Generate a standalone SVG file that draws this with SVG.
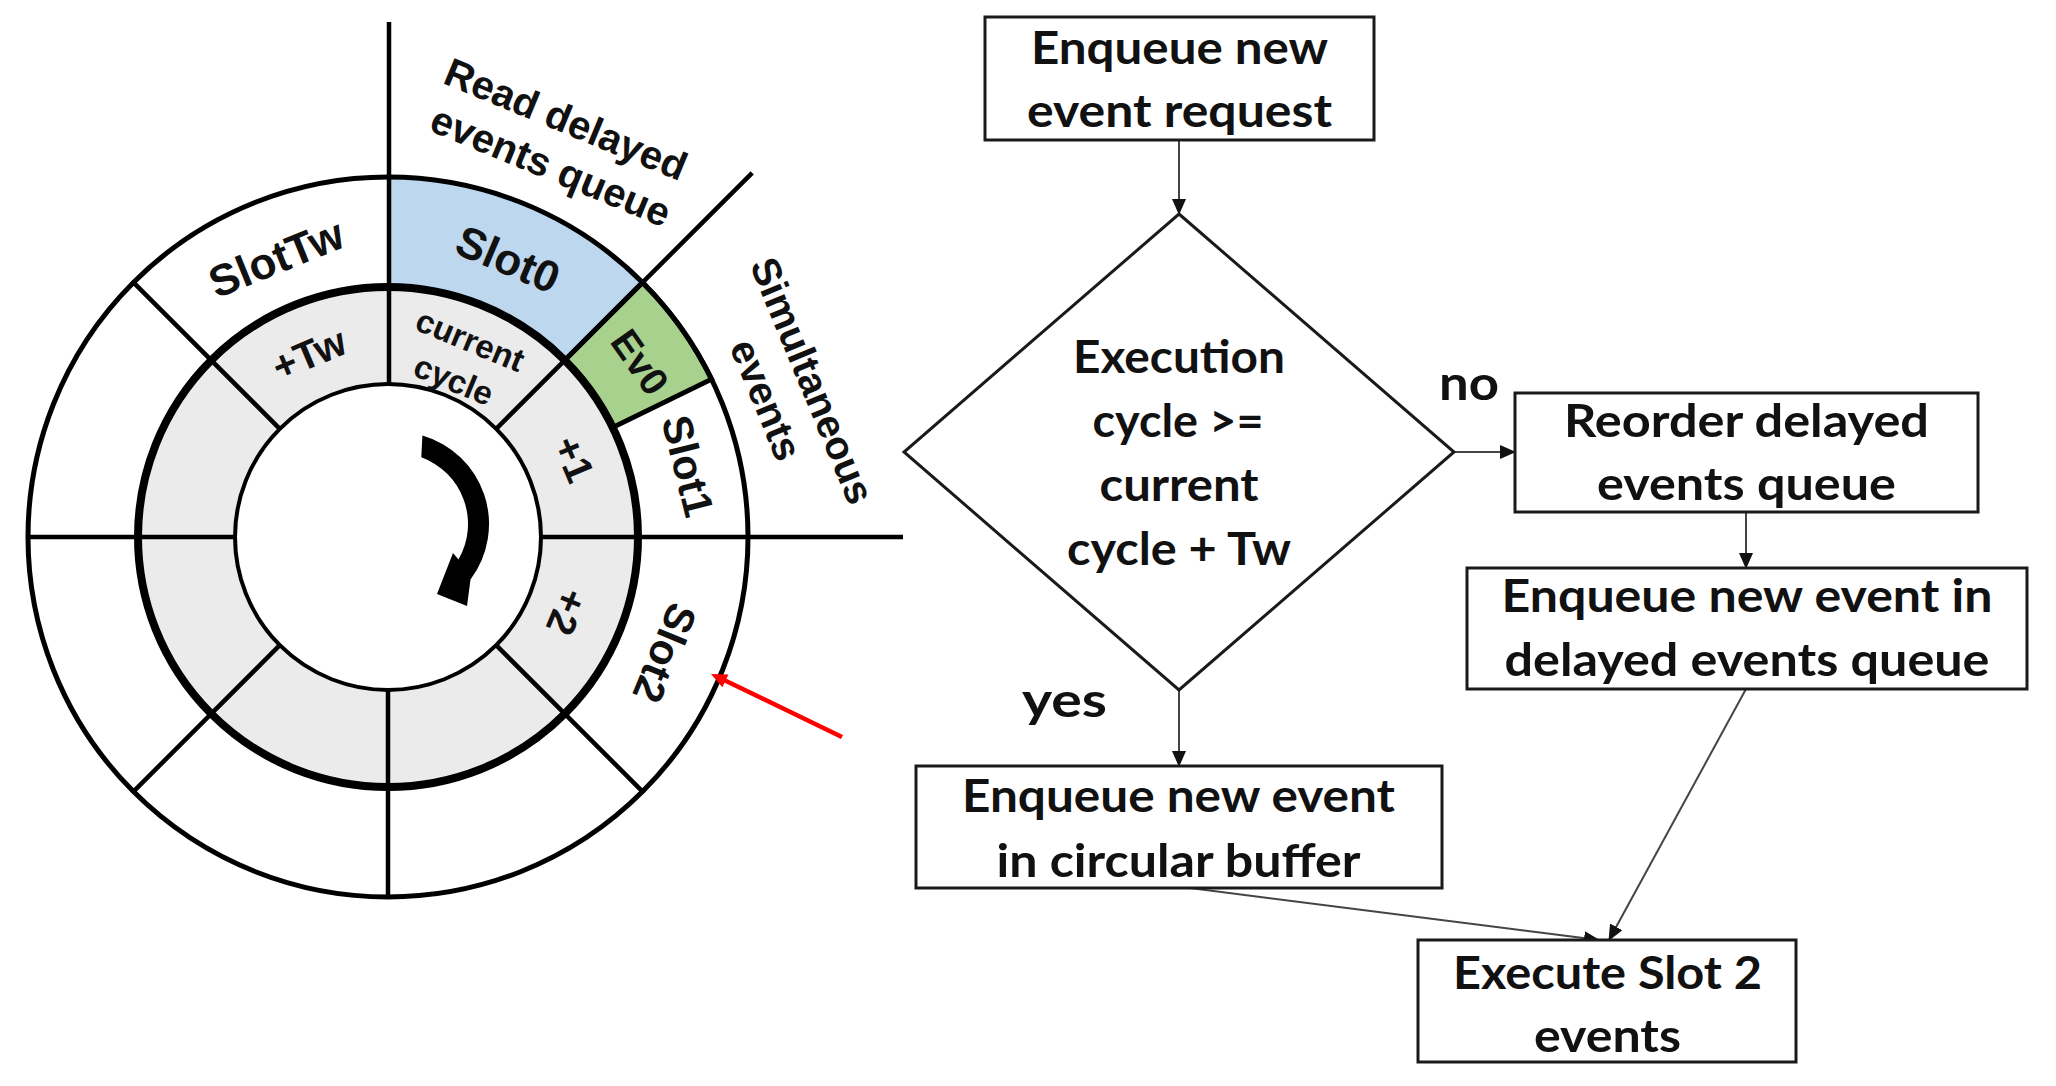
<svg xmlns="http://www.w3.org/2000/svg" width="2056" height="1086" viewBox="0 0 2056 1086">
<style>
.ct{font-family:"Liberation Sans",Arial,sans-serif;font-weight:bold;fill:#111;text-anchor:middle}
.fl{font-family:Lato,"Open Sans",sans-serif;font-weight:bold;font-size:46px;fill:#111;text-anchor:middle}
.lb{font-family:Lato,"Open Sans",sans-serif;font-weight:bold;font-size:48px;fill:#111}
.box{fill:#fff;stroke:#1a1a1a;stroke-width:3}
.rad{stroke:#000;stroke-width:4.5;fill:none}
.con{stroke:#444;stroke-width:2;fill:none}
</style>
<defs>
<marker id="ah" markerUnits="userSpaceOnUse" markerWidth="16" markerHeight="14" refX="15" refY="7" orient="auto">
<path d="M0,0 L16,7 L0,14 Z" fill="#111"/>
</marker>
</defs>
<rect width="2056" height="1086" fill="#fff"/>

<g id="circular-buffer">
<circle cx="388" cy="537" r="360" fill="#fff"/>
<path d="M388,177 A360,360 0 0 1 642.6,282.4 L564.8,360.2 A250,250 0 0 0 388,287 Z" fill="#bdd7ee"/>
<circle cx="388" cy="537" r="250" fill="#ebebeb"/>
<circle cx="388" cy="537" r="153" fill="#fff"/>
<path id="ev0-sector" d="M642.6,282.4 A360,360 0 0 1 711.6,379.2 L612.7,427.4 A250,250 0 0 0 564.8,360.2 Z" fill="#a9d18e" stroke="#000" stroke-width="5"/>
<circle cx="388" cy="537" r="360" fill="none" stroke="#000" stroke-width="5"/>
<circle cx="388" cy="537" r="250" fill="none" stroke="#000" stroke-width="8"/>
<circle cx="388" cy="537" r="153" fill="none" stroke="#000" stroke-width="4"/>
<line class="rad" x1="541" y1="537" x2="903" y2="537"/>
<line class="rad" x1="496.2" y1="428.8" x2="752.2" y2="172.8"/>
<line class="rad" x1="389" y1="384" x2="389" y2="22"/>
<line class="rad" x1="279.8" y1="428.8" x2="133.4" y2="282.4"/>
<line class="rad" x1="235" y1="537" x2="28" y2="537"/>
<line class="rad" x1="279.8" y1="645.2" x2="133.4" y2="791.6"/>
<line class="rad" x1="388" y1="690" x2="388" y2="897"/>
<line class="rad" x1="496.2" y1="645.2" x2="642.6" y2="791.6"/>
<path id="rotation-arrow" d="M422.4,435.6 A92,92 0 0 1 470.5,579.4 L467,606 L437,594 L453,553 L458.5,559.5 A71,71 0 0 0 421.3,457.3 Z" fill="#000"/>

<text class="ct" font-size="44" transform="translate(508,259) rotate(23)" dy=".35em">Slot0</text>
<text class="ct" font-size="44" transform="translate(276,258) rotate(-22)" dy=".35em">SlotTw</text>
<text class="ct" font-size="42" transform="translate(688,466) rotate(76)" dy=".35em">Slot1</text>
<text class="ct" font-size="39" transform="translate(640,362) rotate(55)" dy=".35em">Ev0</text>
<text class="ct" font-size="42" transform="translate(665,653) rotate(112.5)" dy=".35em">Slot2</text>
<text class="ct" font-size="40" transform="translate(567,612) rotate(112.5)" dy=".35em">+2</text>
<text class="ct" font-size="40" transform="translate(574,459) rotate(67)" dy=".35em">+1</text>
<text class="ct" font-size="40" transform="translate(309,354) rotate(-23)" dy=".35em">+Tw</text>
<g transform="translate(462,360) rotate(22.5)">
<text class="ct" font-size="33" y="-21.5" dy=".35em">current</text>
<text class="ct" font-size="33" y="21.5" dy=".35em">cycle</text>
</g>
<g transform="translate(560.6,132) rotate(22.5)">
<text class="ct" font-size="40">Read delayed</text>
<text class="ct" font-size="40" x="4" y="49">events queue</text>
</g>
<g transform="translate(812.5,380.5) rotate(67.5)">
<text class="ct" font-size="40" dy=".35em">Simultaneous</text>
<text class="ct" font-size="40" y="50" dy=".35em">events</text>
</g>
<g id="red-arrow">
<line x1="842" y1="737" x2="724" y2="680" stroke="#ff0000" stroke-width="4.5"/>
<path d="M711,674 L728.4,674.6 L722.4,687.2 Z" fill="#ff0000"/>
</g>
</g>

<g id="connectors">
<line class="con" x1="1179" y1="140" x2="1179" y2="214" marker-end="url(#ah)"/>
<line class="con" x1="1454" y1="452" x2="1515" y2="452" marker-end="url(#ah)"/>
<line class="con" x1="1746" y1="512" x2="1746" y2="568" marker-end="url(#ah)"/>
<line class="con" x1="1179" y1="690" x2="1179" y2="766" marker-end="url(#ah)"/>
<line class="con" x1="1190" y1="888" x2="1599" y2="940" marker-end="url(#ah)"/>
<line class="con" x1="1746" y1="689" x2="1609" y2="940" marker-end="url(#ah)"/>
<text class="lb" x="1439" y="400" textLength="60" lengthAdjust="spacingAndGlyphs">no</text>
<text class="lb" x="1022" y="717" textLength="85" lengthAdjust="spacingAndGlyphs">yes</text>
</g>

<g id="n1">
<rect class="box" x="985" y="17" width="389" height="123"/>
<text class="fl" x="1179.5" y="64" textLength="297" lengthAdjust="spacingAndGlyphs">Enqueue new</text>
<text class="fl" x="1179.5" y="127" textLength="305" lengthAdjust="spacingAndGlyphs">event request</text>
</g>
<g id="d1">
<polygon points="1179,214 1454,452 1179,690 904,452" fill="#fff" stroke="#1a1a1a" stroke-width="3"/>
<text class="fl" x="1179" y="373" textLength="212" lengthAdjust="spacingAndGlyphs">Execution</text>
<text class="fl" x="1178" y="437" textLength="171" lengthAdjust="spacingAndGlyphs">cycle &gt;=</text>
<text class="fl" x="1179" y="501" textLength="159" lengthAdjust="spacingAndGlyphs">current</text>
<text class="fl" x="1179" y="565" textLength="224" lengthAdjust="spacingAndGlyphs">cycle + Tw</text>
</g>
<g id="n2">
<rect class="box" x="1515" y="393" width="463" height="119"/>
<text class="fl" x="1746.5" y="437" textLength="365" lengthAdjust="spacingAndGlyphs">Reorder delayed</text>
<text class="fl" x="1746.5" y="500" textLength="299" lengthAdjust="spacingAndGlyphs">events queue</text>
</g>
<g id="n3">
<rect class="box" x="1467" y="568" width="560" height="121"/>
<text class="fl" x="1747" y="612" textLength="491" lengthAdjust="spacingAndGlyphs">Enqueue new event in</text>
<text class="fl" x="1747" y="676" textLength="485" lengthAdjust="spacingAndGlyphs">delayed events queue</text>
</g>
<g id="n4">
<rect class="box" x="916" y="766" width="526" height="122"/>
<text class="fl" x="1178.5" y="812" textLength="433" lengthAdjust="spacingAndGlyphs">Enqueue new event</text>
<text class="fl" x="1178.5" y="877" textLength="364" lengthAdjust="spacingAndGlyphs">in circular buffer</text>
</g>
<g id="n5">
<rect class="box" x="1418" y="940" width="378" height="122"/>
<text class="fl" x="1607.5" y="989" textLength="309" lengthAdjust="spacingAndGlyphs">Execute Slot 2</text>
<text class="fl" x="1607.5" y="1052" textLength="147" lengthAdjust="spacingAndGlyphs">events</text>
</g>
</svg>
